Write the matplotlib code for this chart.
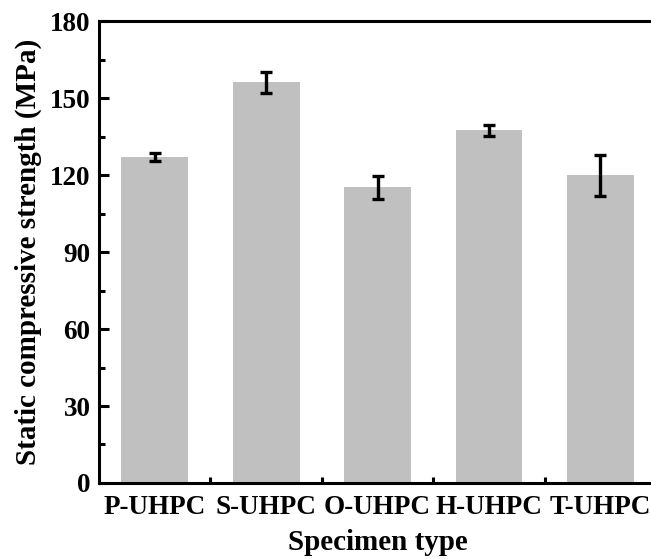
import numpy as np
import matplotlib
matplotlib.use("Agg")
import matplotlib.pyplot as plt
from matplotlib.ticker import MultipleLocator

# specimen types and static compressive strength (MPa)
specimens = ["P-UHPC", "S-UHPC", "O-UHPC", "H-UHPC", "T-UHPC"]
strength = [127.0, 156.2, 115.3, 137.5, 120.0]
strength_err = [1.6, 4.2, 4.5, 2.2, 8.0]

plt.rcParams["font.family"] = ["Liberation Serif", "DejaVu Serif"]
plt.rcParams["font.weight"] = "bold"

fig = plt.figure(figsize=(6.51, 5.59), dpi=100)
# right edge of the axes is cropped by the figure border, like the original
ax = fig.add_axes([0.152, 0.136, 0.856, 0.826])

x = np.arange(1, len(specimens) + 1)
ax.bar(x, strength, width=0.6, color="#c0c0c0", zorder=2)
ax.errorbar(x, strength, yerr=strength_err, fmt="none", ecolor="black",
            elinewidth=2.4, capsize=4, capthick=2.4, zorder=3)

ax.set_xlim(0.5, 5.5)
ax.set_ylim(0, 180)
ax.yaxis.set_major_locator(MultipleLocator(30))
ax.yaxis.set_minor_locator(MultipleLocator(15))
ax.set_xticks(x)
ax.set_xticks(x[:-1] + 0.5, minor=True)
ax.set_xticklabels(specimens)

for s in ax.spines.values():
    s.set_linewidth(2.2)

ax.tick_params(which="major", direction="in", length=7, width=2.2,
               labelsize=19.5)
ax.tick_params(axis="x", which="major", pad=9)
ax.tick_params(axis="y", which="major", pad=6)
ax.tick_params(which="minor", direction="in", length=4, width=2.2)

ax.set_xlabel("Specimen type", fontsize=21, fontweight="bold", labelpad=6)
ax.set_ylabel("Static compressive strength (MPa)", fontsize=21,
              fontweight="bold", labelpad=6)

fig.savefig("out.png", dpi=100)
